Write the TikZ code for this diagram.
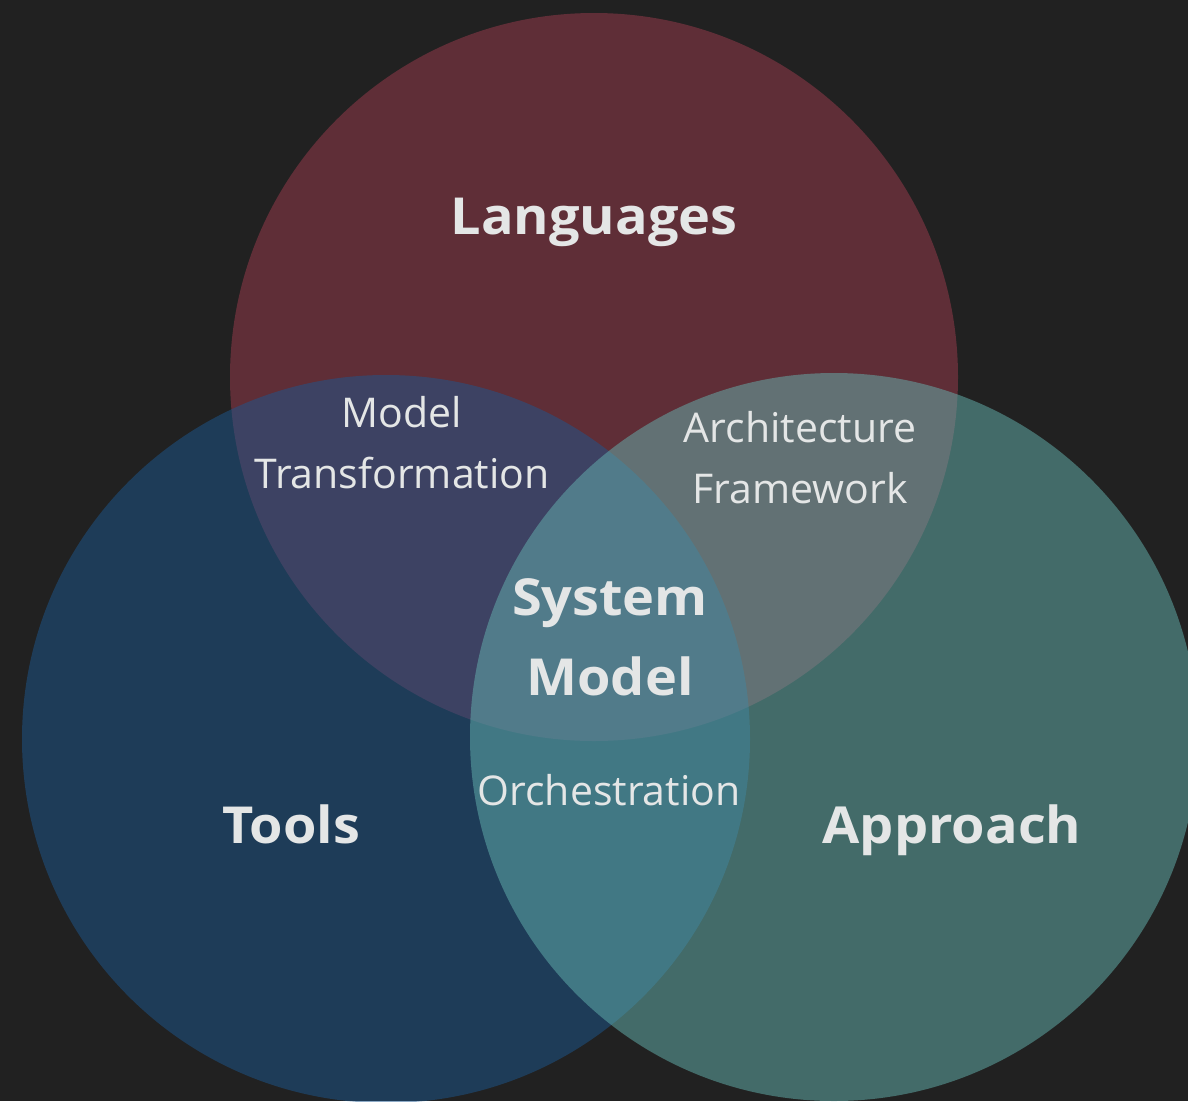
\documentclass[tikz,border=0pt]{standalone}
\usepackage{fontspec}
\setmainfont{Open Sans}
\newfontfamily\headfont{Open Sans}[FakeStretch=1.06]

\definecolor{bgdark}{HTML}{212121}
\definecolor{langred}{RGB}{157,59,77}
\definecolor{toolblue}{RGB}{29,87,143}
\definecolor{apprteal}{RGB}{101,181,177}
\definecolor{labelgrey}{HTML}{E4E6E6}

\begin{document}
\begin{tikzpicture}[%
    x=1pt,
    y=-1pt,
    set/.style={circle, minimum size=728pt, inner sep=0pt, fill opacity=0.5},
    title/.style={text=labelgrey, anchor=base, align=center,
      font=\fontsize{51pt}{80pt}\headfont\bfseries},
    overlap/.style={text=labelgrey, anchor=base, align=center,
      font=\fontsize{41pt}{61pt}\selectfont}
  ]

  \fill[bgdark] (0,0) rectangle (1188,1101);
  \clip (0,0) rectangle (1188,1101);

  % the three sets
  \node[set, fill=langred] (lang) at (594,377) {};
  \node[set, fill=toolblue] (tools) at (386,739) {};
  \node[set, fill=apprteal] (appr) at (834,737) {};

  % names of the sets
  \node[title] (langname) at (594,234) {Languages};
  \node[title] (toolsname) at (291,843) {Tools};
  \node[title] (apprname) at (952,843) {Approach};

  % the overlaps (base = last line)
  \node[overlap] (mt) at (402,488) {Model\\Transformation};
  \node[overlap] (af) at (800,503) {Architecture\\Framework};
  \node[overlap] (orch) at (609,805) {Orchestration};
  \node[title] (sm) at (610,695) {System\\Model};
\end{tikzpicture}
\end{document}
